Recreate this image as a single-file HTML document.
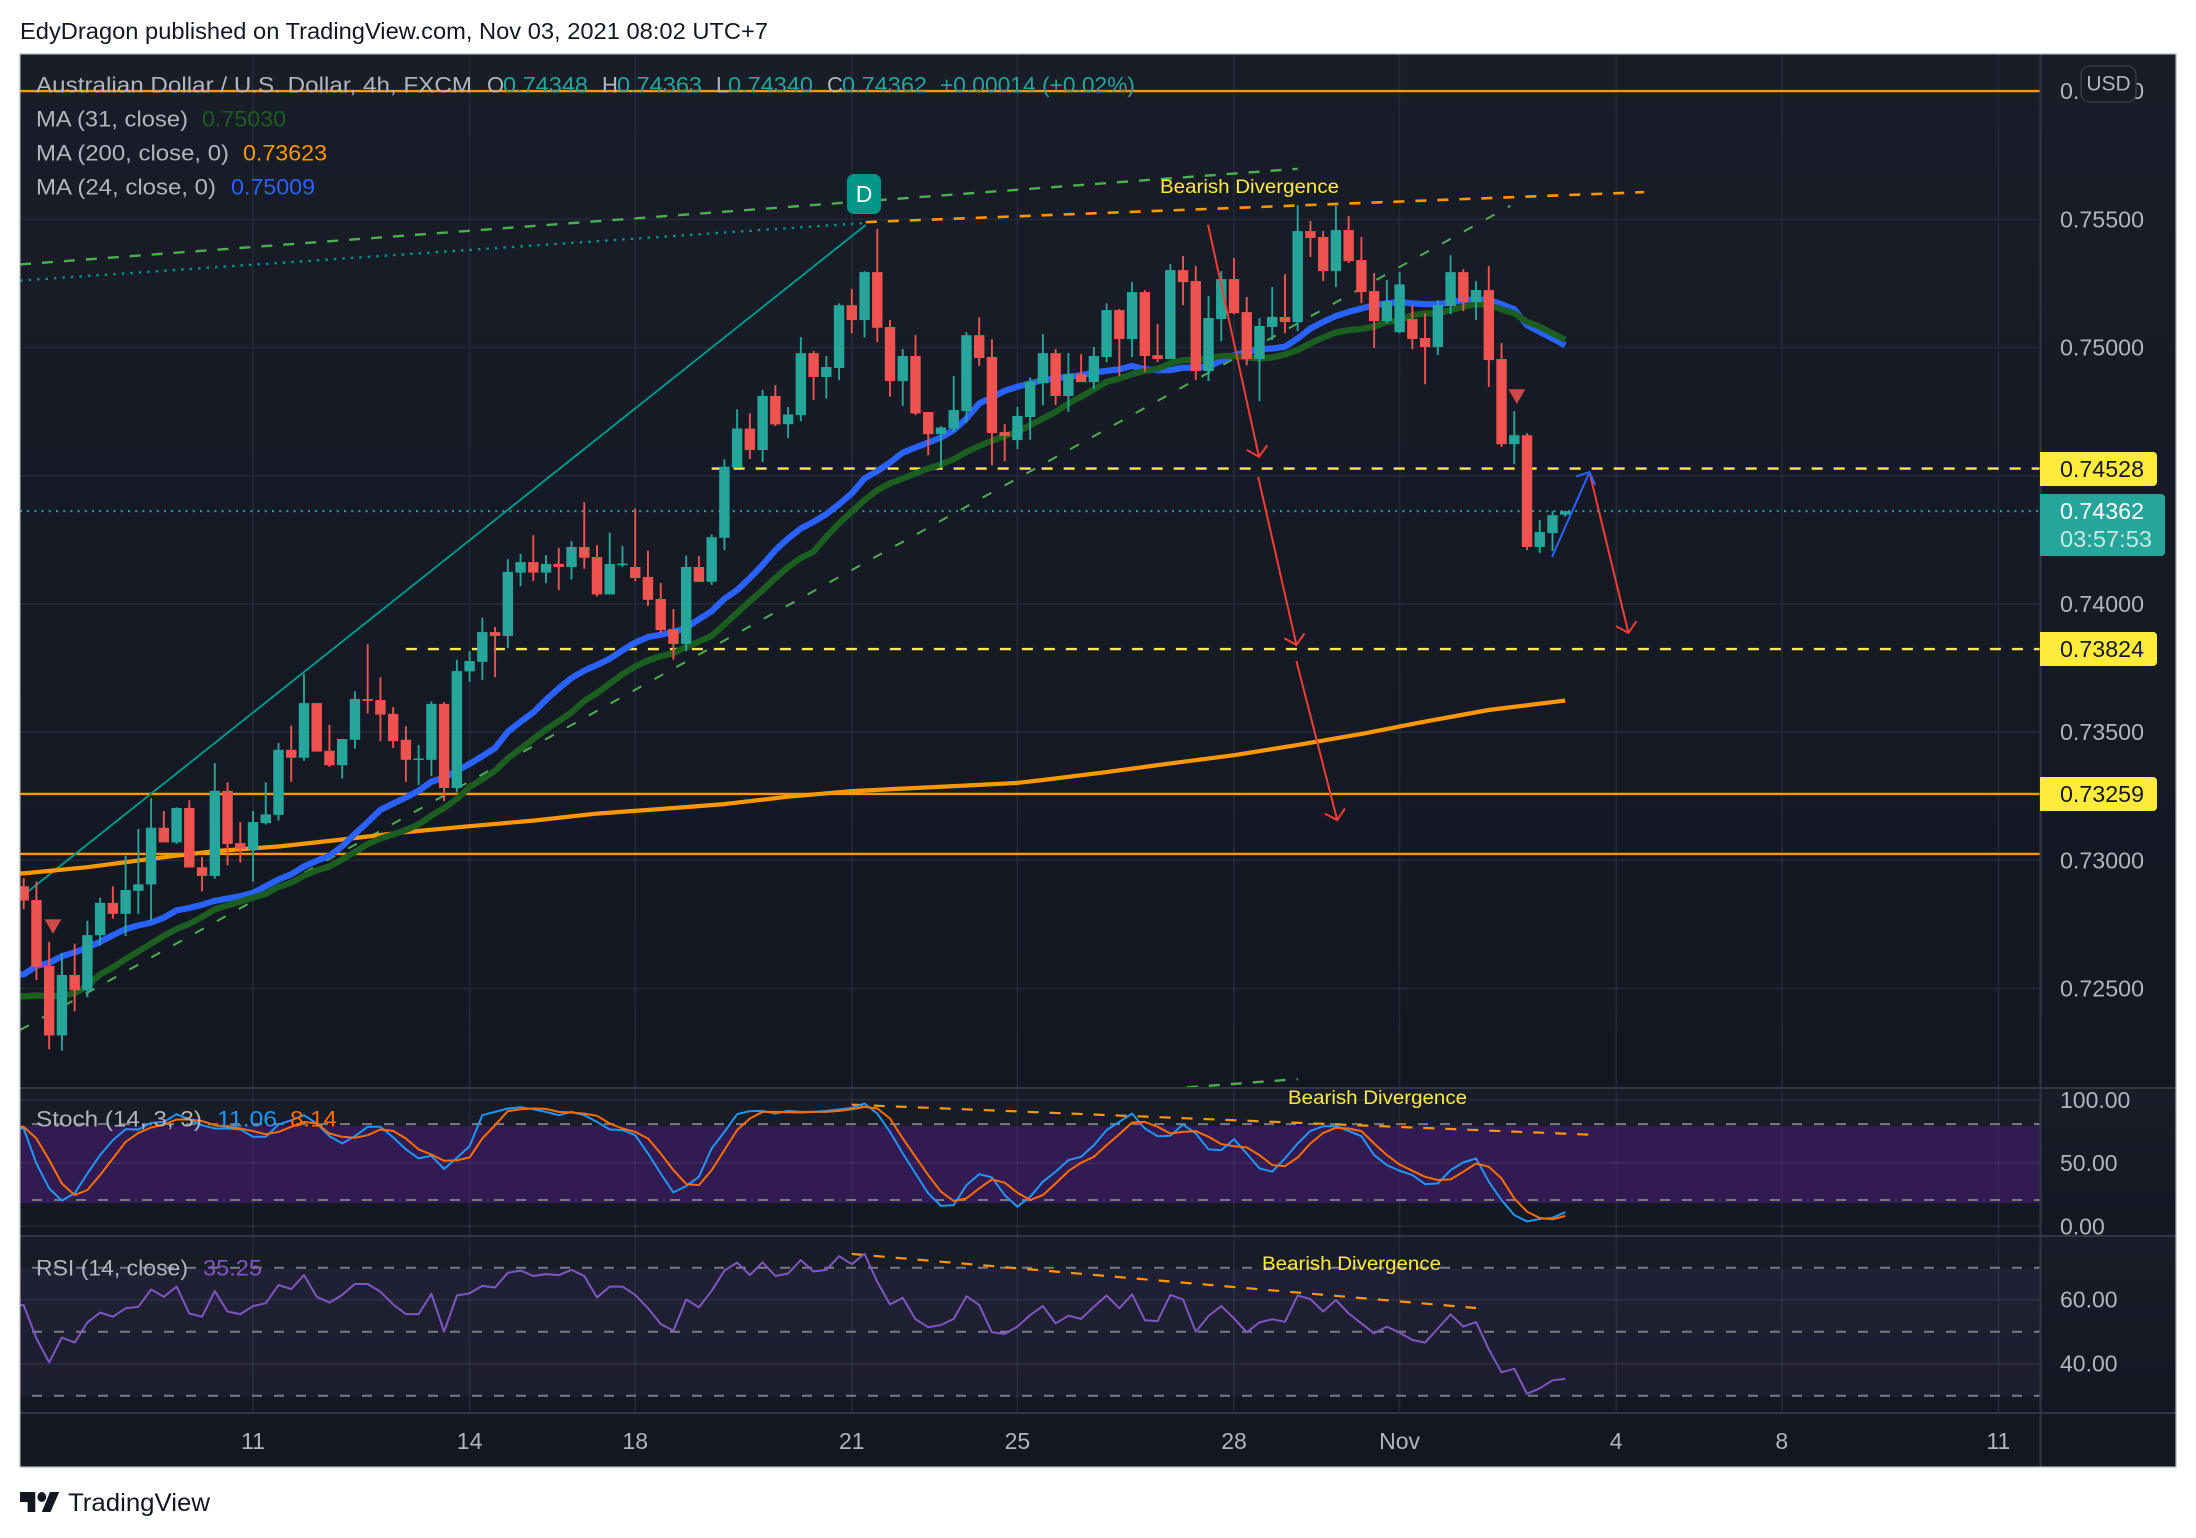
<!DOCTYPE html>
<html lang="en">
<head>
<meta charset="utf-8">
<title>AUD/USD 4h chart</title>
<style>
html,body{margin:0;padding:0;background:#fff;}
body{width:2196px;height:1538px;overflow:hidden;position:relative;}
svg{display:block;position:absolute;left:0;top:0;}
text{font-family:"Liberation Sans","DejaVu Sans",sans-serif;}
</style>
</head>
<body>
<svg id="chart" width="2196" height="1538" viewBox="0 0 2196 1538" xmlns="http://www.w3.org/2000/svg">
  <defs>
    <linearGradient id="paneFill" x1="0" y1="0" x2="0" y2="1">
      <stop offset="0" stop-color="#191d28"/>
      <stop offset="1" stop-color="#131722"/>
    </linearGradient>
    <clipPath id="clipMain"><rect x="20" y="54" width="2020" height="1034"/></clipPath>
    <clipPath id="clipStoch"><rect x="20" y="1088" width="2020" height="148"/></clipPath>
    <clipPath id="clipRsi"><rect x="20" y="1236" width="2020" height="177"/></clipPath>
    <clipPath id="clipStochAxis"><rect x="2040" y="1088" width="136" height="148"/></clipPath>
  </defs>

  <rect x="0" y="0" width="2196" height="1538" fill="#ffffff"/>
  <text x="20" y="31" dominant-baseline="central" font-size="23" fill="#131722" textLength="748" lengthAdjust="spacingAndGlyphs">EdyDragon published on TradingView.com, Nov 03, 2021 08:02 UTC+7</text>

  <rect x="20" y="54" width="2156" height="1034" fill="url(#paneFill)"/>
  <rect x="20" y="1088" width="2156" height="148" fill="url(#paneFill)"/>
  <rect x="20" y="1236" width="2156" height="177" fill="url(#paneFill)"/>
  <rect x="20" y="1413" width="2156" height="54" fill="#131722"/>

  <g id="gridLayer"></g>

  <rect x="20" y="1126" width="2020" height="77" fill="#311b52"/>
  <rect x="20" y="1269" width="2020" height="128" fill="#7e57c2" fill-opacity="0.09"/>
  <g id="bandGridLayer"></g>
  <g id="levelLayer"></g>

  <g clip-path="url(#clipMain)">
    <g id="drawLayer"></g>
    <g id="maLayer"></g>
    <g id="candleLayer"></g>
    <g id="arrowLayer"></g>
    <g id="markerLayer"></g>
  </g>
  <g clip-path="url(#clipStoch)"><g id="stochLayer"></g></g>
  <g clip-path="url(#clipRsi)"><g id="rsiLayer"></g></g>

  <line x1="2040.5" y1="54" x2="2040.5" y2="1467" stroke="#333743" stroke-width="2"/>
  <line x1="20" y1="1088" x2="2176" y2="1088" stroke="#333743" stroke-width="2"/>
  <line x1="20" y1="1236" x2="2176" y2="1236" stroke="#333743" stroke-width="2"/>
  <line x1="20" y1="1413" x2="2176" y2="1413" stroke="#333743" stroke-width="2"/>
  <rect x="20" y="54" width="2156" height="1413" fill="none" stroke="#b2b5be" stroke-width="1.2"/>

  <g id="axisLayer"></g>

  <g font-size="22">
    <text x="36" y="85" dominant-baseline="central" fill="#b2b5be" textLength="436" lengthAdjust="spacingAndGlyphs">Australian Dollar / U.S. Dollar, 4h, FXCM</text>
    <text x="487" y="85" dominant-baseline="central" fill="#b2b5be">O</text>
    <text x="503" y="85" dominant-baseline="central" fill="#26a69a" textLength="85" lengthAdjust="spacingAndGlyphs">0.74348</text>
    <text x="602" y="85" dominant-baseline="central" fill="#b2b5be">H</text>
    <text x="617" y="85" dominant-baseline="central" fill="#26a69a" textLength="85" lengthAdjust="spacingAndGlyphs">0.74363</text>
    <text x="716" y="85" dominant-baseline="central" fill="#b2b5be">L</text>
    <text x="728" y="85" dominant-baseline="central" fill="#26a69a" textLength="85" lengthAdjust="spacingAndGlyphs">0.74340</text>
    <text x="827" y="85" dominant-baseline="central" fill="#b2b5be">C</text>
    <text x="842" y="85" dominant-baseline="central" fill="#26a69a" textLength="85" lengthAdjust="spacingAndGlyphs">0.74362</text>
    <text x="940" y="85" dominant-baseline="central" fill="#26a69a" textLength="195" lengthAdjust="spacingAndGlyphs">+0.00014 (+0.02%)</text>

    <text x="36" y="119" dominant-baseline="central" fill="#b2b5be" textLength="152" lengthAdjust="spacingAndGlyphs">MA (31, close)</text>
    <text x="202" y="119" dominant-baseline="central" fill="#1b5e20" textLength="84" lengthAdjust="spacingAndGlyphs">0.75030</text>
    <text x="36" y="153" dominant-baseline="central" fill="#b2b5be" textLength="193" lengthAdjust="spacingAndGlyphs">MA (200, close, 0)</text>
    <text x="243" y="153" dominant-baseline="central" fill="#ff9800" textLength="84" lengthAdjust="spacingAndGlyphs">0.73623</text>
    <text x="36" y="187" dominant-baseline="central" fill="#b2b5be" textLength="180" lengthAdjust="spacingAndGlyphs">MA (24, close, 0)</text>
    <text x="231" y="187" dominant-baseline="central" fill="#2962ff" textLength="84" lengthAdjust="spacingAndGlyphs">0.75009</text>

    <text x="36" y="1119" dominant-baseline="central" fill="#b2b5be" textLength="166" lengthAdjust="spacingAndGlyphs">Stoch (14, 3, 3)</text>
    <text x="217" y="1119" dominant-baseline="central" fill="#2196f3" textLength="60" lengthAdjust="spacingAndGlyphs">11.06</text>
    <text x="290" y="1119" dominant-baseline="central" fill="#ff6d00" textLength="47" lengthAdjust="spacingAndGlyphs">8.14</text>
    <text x="36" y="1268" dominant-baseline="central" fill="#b2b5be" textLength="152" lengthAdjust="spacingAndGlyphs">RSI (14, close)</text>
    <text x="203" y="1268" dominant-baseline="central" fill="#7e57c2" textLength="59" lengthAdjust="spacingAndGlyphs">35.25</text>
  </g>

  <g font-size="19.5" fill="#ffeb3b">
    <text x="1160" y="187" dominant-baseline="central" textLength="179" lengthAdjust="spacingAndGlyphs">Bearish Divergence</text>
    <text x="1288" y="1098" dominant-baseline="central" textLength="179" lengthAdjust="spacingAndGlyphs">Bearish Divergence</text>
    <text x="1262" y="1264" dominant-baseline="central" textLength="179" lengthAdjust="spacingAndGlyphs">Bearish Divergence</text>
  </g>

  <g>
    <rect x="847" y="174" width="34" height="40" rx="7" fill="#009688"/>
    <text x="864" y="194" text-anchor="middle" dominant-baseline="central" font-size="23" fill="#ffffff">D</text>
  </g>

  <g font-size="23">
    <path d="M2040 452h113a4 4 0 0 1 4 4v26a4 4 0 0 1-4 4h-113z" fill="#ffeb3b"/>
    <text x="2060" y="469" dominant-baseline="central" fill="#131722" textLength="84" lengthAdjust="spacingAndGlyphs">0.74528</text>
    <path d="M2040 632h113a4 4 0 0 1 4 4v26a4 4 0 0 1-4 4h-113z" fill="#ffeb3b"/>
    <text x="2060" y="649" dominant-baseline="central" fill="#131722" textLength="84" lengthAdjust="spacingAndGlyphs">0.73824</text>
    <path d="M2040 777h113a4 4 0 0 1 4 4v26a4 4 0 0 1-4 4h-113z" fill="#ffeb3b"/>
    <text x="2060" y="794" dominant-baseline="central" fill="#131722" textLength="84" lengthAdjust="spacingAndGlyphs">0.73259</text>
    <path d="M2040 494h121a4 4 0 0 1 4 4v54a4 4 0 0 1-4 4h-121z" fill="#26a69a"/>
    <text x="2060" y="511" dominant-baseline="central" fill="#ffffff" textLength="84" lengthAdjust="spacingAndGlyphs">0.74362</text>
    <text x="2060" y="539" dominant-baseline="central" fill="#ffffff" fill-opacity="0.75" textLength="92" lengthAdjust="spacingAndGlyphs">03:57:53</text>
  </g>

  <g>
    <rect x="2081" y="66" width="55" height="36" rx="9" fill="#171b26" stroke="#363a45" stroke-width="1.5"/>
    <text x="2108.5" y="84" text-anchor="middle" dominant-baseline="central" font-size="21" fill="#b2b5be">USD</text>
  </g>

  <g>
    <g transform="translate(20 1484.5) scale(1.09 1.25)" fill="#131722">
      <path d="M14 6H0v8h7v8h7V6Z"/>
      <circle cx="20" cy="10" r="4"/>
      <path d="M28 22h-8l7.5-16H36l-8 16Z"/>
    </g>
    <text x="68" y="1503" dominant-baseline="central" font-size="25" fill="#131722" textLength="142" lengthAdjust="spacingAndGlyphs">TradingView</text>
  </g>
</svg>

<script>
/* ---- candle data (AUD/USD 4h) ---- */
const openPrices = [.72899,.72845,.72588,.72317,.72553,.72493,.72708,.72834,.72791,.72881,.72906,.73127,.73070,.73204,.72973,.72939,.73271,.73067,.73042,.73145,.73177,.73431,.73400,.73613,.73427,.73371,.73470,.73629,.73625,.73571,.73470,.73391,.73392,.73610,.73282,.73737,.73774,.73890,.73875,.74122,.74163,.74122,.74156,.74144,.74222,.74183,.74037,.74153,.74144,.74105,.74019,.73902,.73844,.74144,.74086,.74258,.74531,.74684,.74600,.74811,.74701,.74736,.74978,.74885,.74920,.75165,.75107,.75294,.75080,.74869,.74967,.74748,.74662,.74684,.74752,.75048,.74963,.74670,.74639,.74729,.74861,.74978,.74811,.74896,.74865,.74963,.75146,.75033,.75216,.74970,.74955,.75302,.75259,.74908,.75111,.75267,.75138,.74955,.75080,.75119,.75099,.75454,.75431,.75298,.75458,.75341,.75220,.75103,.75060,.75111,.75037,.75002,.75162,.75294,.75177,.75224,.74955,.74623,.74658,.74222,.74276,.74348];
const highPrices = [.72931,.72917,.72682,.72638,.72675,.72764,.72854,.72899,.73018,.73122,.73242,.73192,.73207,.73234,.73013,.73379,.73304,.73149,.73192,.73304,.73458,.73525,.73726,.73613,.73528,.73473,.73659,.73843,.73714,.73598,.73523,.73450,.73620,.73617,.73782,.73816,.73946,.73910,.74174,.74196,.74268,.74190,.74219,.74245,.74397,.74229,.74278,.74226,.74372,.74207,.74081,.73980,.74189,.74186,.74271,.74564,.74759,.74743,.74834,.74853,.74768,.75041,.74986,.74967,.75172,.75228,.75298,.75462,.75107,.74994,.75048,.74748,.74694,.74889,.75060,.75117,.75032,.74701,.74768,.74883,.75052,.74994,.74978,.74974,.75002,.75172,.75150,.75255,.75224,.75091,.75325,.75357,.75318,.75201,.75298,.75349,.75197,.75115,.75236,.75286,.75555,.75493,.75454,.75552,.75513,.75431,.75290,.75263,.75295,.75165,.75133,.75185,.75360,.75306,.75259,.75318,.75017,.74752,.74666,.74327,.74362,.74363];
const lowPrices = [.72809,.72533,.72263,.72257,.72411,.72466,.72667,.72772,.72705,.72791,.72764,.73070,.73064,.72972,.72879,.72928,.72981,.72991,.72917,.73140,.73155,.73306,.73388,.73424,.73364,.73319,.73435,.73573,.73465,.73438,.73306,.73294,.73328,.73231,.73267,.73696,.73704,.73714,.73828,.74069,.74089,.74081,.74054,.74095,.74137,.74029,.74037,.74144,.74089,.73992,.73887,.73783,.73816,.74086,.74074,.74210,.74531,.74565,.74553,.74694,.74647,.74713,.74795,.74801,.74873,.75055,.75039,.75021,.74808,.74772,.74736,.74580,.74535,.74671,.74707,.74928,.74541,.74557,.74604,.74640,.74775,.74775,.74749,.74865,.74838,.74943,.74889,.74963,.74905,.74943,.74955,.75165,.74873,.74869,.75025,.75130,.74931,.74791,.75029,.75056,.75064,.75353,.75259,.75236,.75329,.75173,.74998,.75095,.75055,.74994,.74857,.74970,.75130,.75142,.75107,.74846,.74612,.74545,.74210,.74198,.74206,.74340];
const closePrices = [.72843,.72585,.72317,.72553,.72493,.72708,.72834,.72791,.72884,.72906,.73127,.73070,.73204,.72972,.72939,.73271,.73064,.73045,.73149,.73179,.73431,.73400,.73613,.73424,.73371,.73473,.73629,.73622,.73568,.73465,.73392,.73397,.73610,.73282,.73738,.73777,.73890,.73875,.74125,.74163,.74122,.74156,.74144,.74222,.74180,.74037,.74156,.74157,.74101,.74016,.73898,.73844,.74144,.74086,.74260,.74535,.74684,.74600,.74811,.74700,.74739,.74978,.74885,.74924,.75165,.75107,.75294,.75077,.74869,.74967,.74743,.74662,.74688,.74756,.75048,.74959,.74666,.74655,.74733,.74866,.74978,.74811,.74896,.74865,.74967,.75146,.75033,.75216,.74967,.74955,.75302,.75255,.74908,.75115,.75267,.75134,.74955,.75084,.75119,.75099,.75454,.75427,.75298,.75458,.75337,.75216,.75103,.75181,.75246,.75033,.75002,.75165,.75294,.75177,.75224,.74951,.74623,.74658,.74222,.74280,.74346,.74362];

/* ---- moving averages ---- */
const ma24Values = [.72555,.72588,.72600,.72626,.72641,.72660,.72682,.72708,.72732,.72746,.72757,.72776,.72805,.72814,.72827,.72842,.72851,.72860,.72873,.72899,.72925,.72945,.72976,.72998,.73018,.73055,.73103,.73149,.73197,.73221,.73245,.73271,.73307,.73322,.73349,.73376,.73406,.73438,.73501,.73540,.73577,.73626,.73671,.73711,.73740,.73762,.73786,.73819,.73849,.73871,.73880,.73890,.73907,.73940,.73972,.74020,.74054,.74101,.74152,.74210,.74255,.74294,.74320,.74350,.74389,.74431,.74489,.74518,.74551,.74590,.74610,.74629,.74649,.74678,.74723,.74782,.74805,.74831,.74847,.74860,.74873,.74879,.74886,.74892,.74902,.74909,.74915,.74928,.74915,.74912,.74912,.74921,.74922,.74925,.74948,.74970,.74983,.74993,.74996,.75003,.75035,.75074,.75100,.75123,.75139,.75152,.75165,.75172,.75178,.75172,.75169,.75169,.75175,.75185,.75188,.75185,.75169,.75149,.75087,.75061,.75035,.75009];
const ma31Values = [.72469,.72473,.72469,.72472,.72481,.72511,.72555,.72582,.72615,.72645,.72675,.72705,.72732,.72752,.72779,.72809,.72824,.72839,.72854,.72869,.72896,.72913,.72940,.72961,.72976,.73003,.73033,.73063,.73085,.73101,.73118,.73140,.73174,.73204,.73239,.73286,.73316,.73349,.73398,.73435,.73473,.73510,.73543,.73577,.73622,.73652,.73689,.73726,.73756,.73779,.73796,.73808,.73831,.73853,.73875,.73920,.73965,.74011,.74054,.74101,.74144,.74179,.74204,.74262,.74314,.74360,.74405,.74444,.74470,.74489,.74509,.74528,.74544,.74564,.74593,.74616,.74636,.74655,.74671,.74697,.74723,.74749,.74782,.74808,.74837,.74866,.74879,.74896,.74909,.74916,.74938,.74951,.74951,.74957,.74967,.74967,.74961,.74957,.74961,.74973,.74990,.75016,.75039,.75059,.75068,.75072,.75081,.75100,.75107,.75126,.75133,.75133,.75146,.75159,.75169,.75165,.75149,.75133,.75100,.75081,.75055,.75030];
const ma200Bars = [0,5,10,15,20,25,30,35,40,45,50,55,60,65,70,75,78,80,85,90,95,100,105,110,115,121];
const ma200Values = [.72949,.72973,.73006,.73036,.73054,.73081,.73110,.73133,.73155,.73182,.73200,.73219,.73248,.73270,.73282,.73294,.73302,.73313,.73344,.73378,.73410,.73450,.73493,.73541,.73586,.73623];

/* ---- oscillators ---- */
const stochK = [77.4,49.7,30,20.3,26.1,41.8,56.3,68.2,76.8,76.6,81.8,82.6,88.7,84.5,80,77.4,77.4,76.6,70.8,70.8,80.5,83.9,87.9,81.3,71.3,65.5,71.3,78.7,78.7,70.3,60.8,53.7,55.8,45.3,54.2,63.4,87.9,90.5,93.2,94.2,92.6,90.5,87.9,90.5,87.9,82.6,76.6,76.1,72.1,57.6,41.8,26.8,31.8,39.2,61.6,74.7,88.7,91.1,91.3,89.2,91.3,90.5,90.5,91.3,92.4,93.7,97.1,89.2,74.7,57.6,41.8,26.1,16.1,16.8,32.6,41.3,38.7,24.7,15.5,23.4,35.3,43.2,52.4,55,64.2,76.1,82.6,89.2,77.4,71.3,71.6,80.5,73.4,60.8,60.3,68.9,57.6,45.8,43.2,53.7,65.5,75.5,79.2,79.2,75.5,71.3,56.3,48.4,43.9,40.5,33.4,33.9,44.5,50.5,53.7,35.3,20.8,8.9,3.9,5.8,6.8,11.06];
const stochD = [78.7,69.5,52.4,33.9,24.7,28.7,40.5,53.7,66.8,73.9,78.2,80.5,84.5,84.5,83.2,80,78.7,77.4,75.3,72.9,74.7,78.7,82.6,81.3,73.4,70.8,70,72.1,76.6,75.5,69.5,60.8,56.8,51.8,52.1,54.5,69.5,80,91.1,92.6,93.2,92.9,90.5,90,89.2,87.4,81.3,77.4,74.7,69.5,57.6,44.5,33.4,32.6,44.5,60.3,76.1,85.3,90.5,90.5,90.3,90,90.5,90.5,91.3,92.6,94.5,93.2,85.3,69.5,55,40.5,27.4,20,22.1,30,37.1,34.5,26.6,20.8,24.7,33.9,43.7,50.3,55,64.2,72.9,82.1,82.6,78.7,73.4,74.7,75.3,70.8,65,63.4,62.4,56.3,48.4,47.6,54.5,65.5,73.9,77.9,77.4,75.3,65.5,56.3,48.9,43.9,39.2,36.6,37.1,43.2,49.7,47.1,37.9,22.1,11.6,6.6,5.5,8.14];
const rsiValues = [58.3,47.9,40.4,48.2,46.6,52.9,56,54.7,57.3,57.8,63.2,60.9,64.1,55.7,54.7,62.7,56.3,55.5,58,58.9,64.6,63.3,67.7,60.9,59.1,61.5,64.9,64.9,62.5,58.5,55.5,55.5,61.8,50,61.3,62,64.3,63.8,68.4,69.1,67.4,68,67.7,69.3,67.4,60.7,64.1,64.1,61.5,57.3,52.4,50.3,60.1,57.6,62.8,69.1,71.6,67.7,71.7,67.4,68.2,72.4,68.8,69.3,73.6,71.1,74.3,65.6,58.5,60.6,53.9,51.4,52.1,54,61.1,58.3,49.8,49.3,51.6,55.2,58,52.6,55,54,57.8,61.3,57.3,61.7,53.6,53.3,61.5,60.1,50,54.9,58,54.2,49.8,52.9,53.9,53.1,61.3,60.2,56.3,59.9,55.7,52.6,49.5,51.6,49.7,47.4,46.6,51,55.4,51.6,53,44.5,37.3,38.4,30.6,32.3,34.8,35.25];

/* ---- axis ticks ---- */
const priceTicks = [.725,.73,.735,.74,.745,.75,.755,.76];
const priceTickLabels = ["0.72500","0.73000","0.73500","0.74000","0.74500","0.75000","0.75500","0.76000"];
const timeTickBars = [18,35,48,65,78,95,108,125,138,155];
const timeTickLabels = ["11","14","18","21","25","28","Nov","4","8","11"];
const stochTicks = [100,50,0];
const stochTickLabels = ["100.00","50.00","0.00"];
const stochLevels = [80,20];
const rsiTicks = [60,40];
const rsiTickLabels = ["60.00","40.00"];
const rsiLevels = [70,50,30];

/* ---- price levels and drawn trendlines (bar index, price) ---- */
const solidLevelPrices = [.76,.73259,.73025];
const dashedLevelPrices = [.74528,.73824];
const dashedLevelStartBars = [54,30];
const trendBarsStart = [-.29,-.29,-.29,66.1,-.29,91.3];
const trendBarsEnd = [66.1,100,66.1,127.2,116.7,100];
const trendPricesStart = [.72853,.75324,.75261,.75489,.72338,.72114];
const trendPricesEnd = [.75478,.75697,.75486,.75606,.75553,.72147];
const trendNames = ["channel-line-solid","upper-green-trendline","dotted-teal-trendline","bearish-divergence-trendline","lower-green-trendline","upper-green-trendline-extension"];
const trendColors = ["#009688","#4caf50","#009688","#ff9800","#4caf50","#4caf50"];
const trendWidths = [2,2.4,2.4,2.6,2,2.4];
const trendDashes = ["","11 11","2.5 6","11 11","10 15","11 11"];
const arrowBarsStart = [92.96,96.9,99.9,122.9,119.96];
const arrowBarsEnd = [96.96,99.9,103.1,125.96,122.9];
const arrowPricesStart = [.75479,.74495,.73777,.74514,.74183];
const arrowPricesEnd = [.74574,.7384,.73157,.73887,.74514];
const arrowColors = ["#f23d33","#f23d33","#f23d33","#f23d33","#2962ff"];
const markerBars = [2.3,117.2];
const markerPrices = [.72742,.74809];
const stochDivBars = [65,122.9];
const stochDivValues = [96.2,72.5];
const rsiDivBars = [65,114];
const rsiDivValues = [74.3,57.4];

/* ---- axis functions ---- */
function xBar(i){return 23.7+12.74*i;}
function yPrice(p){return 347.5+(0.75-p)*25640;}
function yStoch(v){return 1226.3-1.264*v;}
function yRsi(v){return 1299.7+(60-v)*3.2;}

const NS='http://www.w3.org/2000/svg';
function mk(tag,parent,attrs){
  const el=document.createElementNS(NS,tag);
  for(const k in attrs){el.setAttribute(k,attrs[k]);}
  parent.appendChild(el);
  return el;
}
/* polyline points; the first value is carried back to the pane edge */
function polyPoints(xs,ys){
  const pts=xs.map(function(x,i){return x.toFixed(1)+','+ys[i].toFixed(1);});
  pts.unshift((xs[0]-6).toFixed(1)+','+ys[0].toFixed(1));
  return pts.join(' ');
}
const gridLayer=document.getElementById('gridLayer');
const bandGridLayer=document.getElementById('bandGridLayer');
const levelLayer=document.getElementById('levelLayer');
const drawLayer=document.getElementById('drawLayer');
const maLayer=document.getElementById('maLayer');
const candleLayer=document.getElementById('candleLayer');
const arrowLayer=document.getElementById('arrowLayer');
const markerLayer=document.getElementById('markerLayer');
const stochLayer=document.getElementById('stochLayer');
const rsiLayer=document.getElementById('rsiLayer');
const axisLayer=document.getElementById('axisLayer');
const GRID='#252935';

/* gridlines */
timeTickBars.forEach(function(b){
  const gl=mk('line',gridLayer,{x1:xBar(b),x2:xBar(b),y1:54,y2:1413,stroke:GRID,'stroke-width':1.6});
  
  
  const bl=mk('line',bandGridLayer,{x1:xBar(b),x2:xBar(b),y1:1126,y2:1203,stroke:'#ffffff','stroke-opacity':0.05,'stroke-width':1.6});
  
  
});
priceTicks.forEach(function(p){
  const gl=mk('line',gridLayer,{x1:20,x2:2040,y1:yPrice(p),y2:yPrice(p),stroke:GRID,'stroke-width':1.6});
  
  
});
stochTicks.forEach(function(v){
  const gl=mk('line',bandGridLayer,{x1:20,x2:2040,y1:yStoch(v),y2:yStoch(v),stroke:'#ffffff','stroke-opacity':0.07,'stroke-width':1.6});
  
  
});
rsiTicks.forEach(function(v){
  const gl=mk('line',bandGridLayer,{x1:20,x2:2040,y1:yRsi(v),y2:yRsi(v),stroke:'#ffffff','stroke-opacity':0.07,'stroke-width':1.6});
  
  
});

/* indicator levels */
stochLevels.forEach(function(v){
  const lv=mk('line',levelLayer,{x1:32,x2:2040,y1:yStoch(v)-1,y2:yStoch(v)-1,stroke:'#787b86','stroke-width':2,'stroke-dasharray':'10 12'});
  
  
});
rsiLevels.forEach(function(v){
  const lv=mk('line',levelLayer,{x1:32,x2:2040,y1:yRsi(v),y2:yRsi(v),stroke:'#787b86','stroke-width':2,'stroke-dasharray':'10 12'});
  
  
});

/* horizontal price levels */
solidLevelPrices.forEach(function(p){
  const hl=mk('line',drawLayer,{x1:20,x2:2040,y1:yPrice(p),y2:yPrice(p),stroke:'#ff9800','stroke-width':2.4});
  
  
});
dashedLevelPrices.forEach(function(p,i){
  const hl=mk('line',drawLayer,{x1:xBar(dashedLevelStartBars[i]),x2:2040,y1:yPrice(p),y2:yPrice(p),stroke:'#ffeb3b','stroke-width':2.4,'stroke-dasharray':'11 11'});
  
  
});
/* last price line */
const lastLine=mk('line',drawLayer,{x1:20,x2:2040,y1:yPrice(closePrices[closePrices.length-1]),y2:yPrice(closePrices[closePrices.length-1]),stroke:'#26a69a','stroke-width':2,'stroke-dasharray':'2 5.2'});



/* trendlines */
trendNames.forEach(function(name,i){
  const attrs={x1:xBar(trendBarsStart[i]),y1:yPrice(trendPricesStart[i]),x2:xBar(trendBarsEnd[i]),y2:yPrice(trendPricesEnd[i]),stroke:trendColors[i],'stroke-width':trendWidths[i]};
  if(trendDashes[i]){attrs['stroke-dasharray']=trendDashes[i];}
  const tl=mk('line',drawLayer,attrs);
  
  
});

/* moving averages */
const allBars=closePrices.map(function(_,i){return xBar(i);});
const ma200Line=mk('polyline',maLayer,{points:polyPoints(ma200Bars.map(xBar),ma200Values.map(yPrice)),fill:'none',stroke:'#ff9800','stroke-width':4.2,'stroke-linejoin':'round'});


const ma24Line=mk('polyline',maLayer,{points:polyPoints(allBars,ma24Values.map(yPrice)),fill:'none',stroke:'#2962ff','stroke-width':6.2,'stroke-linejoin':'round'});


const ma31Line=mk('polyline',maLayer,{points:polyPoints(allBars,ma31Values.map(yPrice)),fill:'none',stroke:'#1b5e20','stroke-width':6.2,'stroke-linejoin':'round'});



/* candles */
closePrices.forEach(function(c,i){
  const o=openPrices[i];
  const col=c>=o?'#26a69a':'#ef5350';
  const x=xBar(i);
  const wick=mk('line',candleLayer,{x1:x,x2:x,y1:yPrice(highPrices[i]),y2:yPrice(lowPrices[i]),stroke:col,'stroke-width':1.9});
  
  
  const top=yPrice(Math.max(o,c));
  const bot=yPrice(Math.min(o,c));
  const body=mk('rect',candleLayer,{x:x-5.2,y:top,width:10.4,height:Math.max(bot-top,1.5),fill:col});
  
  
});

/* arrows */
arrowColors.forEach(function(col,i){
  const x1=xBar(arrowBarsStart[i]),y1=yPrice(arrowPricesStart[i]);
  const x2=xBar(arrowBarsEnd[i]),y2=yPrice(arrowPricesEnd[i]);
  const ang=Math.atan2(y2-y1,x2-x1),h=14,sp=0.84;
  const d='M'+x1+' '+y1+'L'+x2+' '+y2+
    'M'+(x2-h*Math.cos(ang-sp))+' '+(y2-h*Math.sin(ang-sp))+
    'L'+x2+' '+y2+
    'L'+(x2-h*Math.cos(ang+sp))+' '+(y2-h*Math.sin(ang+sp));
  const ar=mk('path',arrowLayer,{d:d,fill:'none',stroke:col,'stroke-width':2});
  
  
});

/* down markers */
markerBars.forEach(function(b,i){
  const mx=xBar(b),my=yPrice(markerPrices[i]);
  const mkr=mk('path',markerLayer,{d:'M'+(mx-8)+' '+(my-7)+'h16l-8 14z',fill:'#ef5350','fill-opacity':0.85,stroke:'#ef5350','stroke-opacity':0.35});
  
  
});

/* stochastic */
const stochDivLine=mk('line',stochLayer,{x1:xBar(stochDivBars[0]),y1:yStoch(stochDivValues[0]),x2:xBar(stochDivBars[1]),y2:yStoch(stochDivValues[1]),stroke:'#ff9800','stroke-width':2.2,'stroke-dasharray':'11 11'});


const kLine=mk('polyline',stochLayer,{points:polyPoints(allBars,stochK.map(yStoch)),fill:'none',stroke:'#2196f3','stroke-width':2,'stroke-linejoin':'round'});


const dLine=mk('polyline',stochLayer,{points:polyPoints(allBars,stochD.map(yStoch)),fill:'none',stroke:'#ff6d00','stroke-width':2,'stroke-linejoin':'round'});



/* RSI */
const rsiDivLine=mk('line',rsiLayer,{x1:xBar(rsiDivBars[0]),y1:yRsi(rsiDivValues[0]),x2:xBar(rsiDivBars[1]),y2:yRsi(rsiDivValues[1]),stroke:'#ff9800','stroke-width':2.2,'stroke-dasharray':'11 11'});


const rsiLine=mk('polyline',rsiLayer,{points:polyPoints(allBars,rsiValues.map(yRsi)),fill:'none',stroke:'#7e57c2','stroke-width':2,'stroke-linejoin':'round'});



/* axis labels */
priceTickLabels.forEach(function(lbl,i){
  const t=mk('text',axisLayer,{x:2060,y:yPrice(priceTicks[i]),'dominant-baseline':'central','font-size':23,fill:'#b2b5be',textLength:84,lengthAdjust:'spacingAndGlyphs'});
  
  
  t.textContent=lbl;
});
stochTickLabels.forEach(function(lbl,i){
  const t=mk('text',axisLayer,{x:2060,y:yStoch(stochTicks[i]),'dominant-baseline':'central','font-size':23,fill:'#b2b5be','clip-path':'url(#clipStochAxis)'});
  
  
  t.textContent=lbl;
});
rsiTickLabels.forEach(function(lbl,i){
  const t=mk('text',axisLayer,{x:2060,y:yRsi(rsiTicks[i]),'dominant-baseline':'central','font-size':23,fill:'#b2b5be'});
  
  
  t.textContent=lbl;
});
timeTickLabels.forEach(function(lbl,i){
  const t=mk('text',axisLayer,{x:xBar(timeTickBars[i]),y:1441,'text-anchor':'middle','dominant-baseline':'central','font-size':23,fill:'#b2b5be'});
  
  
  t.textContent=lbl;
});
</script>
</body>
</html>
